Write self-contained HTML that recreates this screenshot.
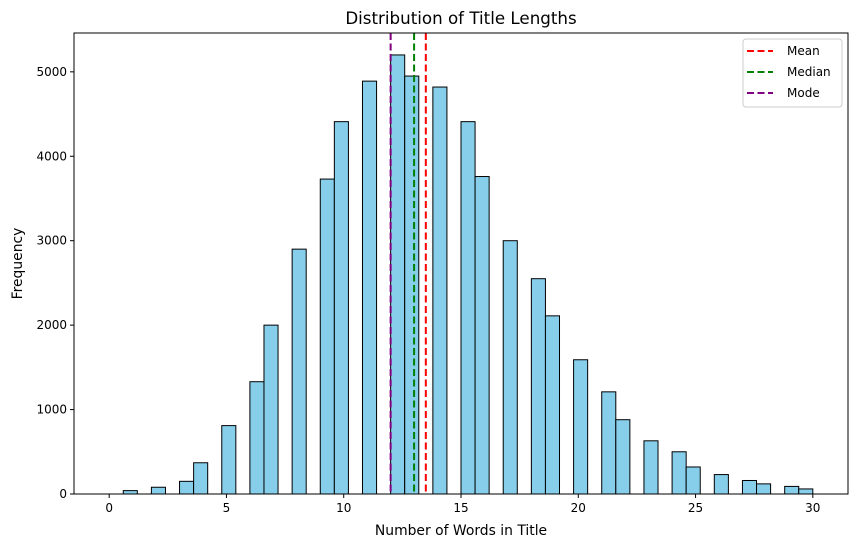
<!DOCTYPE html>
<html><head><meta charset="utf-8"><style>
body{margin:0;background:#fff;}
svg{display:block;font-family:"DejaVu Sans","Liberation Sans",sans-serif;}
</style></head><body>
<svg id="c" width="859" height="547" xmlns="http://www.w3.org/2000/svg"></svg>
<script>
const words=[0,1,2,3,4,5,6,7,8,9,10,11,12,13,14,15,16,17,18,19,20,21,22,23,24,25,26,27,28,29,30];
const counts=[0,40,80,150,370,810,1330,2000,2900,3730,4410,4890,5200,4950,4820,4410,3760,3000,2550,2110,1590,1210,880,630,500,320,230,160,120,90,60];
const xTicks=[0,5,10,15,20,25,30];
const yTicks=[0,1000,2000,3000,4000,5000];
const refLines=[{name:'Mean',v:13.5,c:'#ff0000'},{name:'Median',v:13,c:'#008000'},{name:'Mode',v:12,c:'#800080'}];
const L=74,R=848,T=33,B=494;
const xmin=-1.5,xmax=31.5,ymax=5460;
const X=v=>L+(v-xmin)/(xmax-xmin)*(R-L);
const Y=v=>B-v/ymax*(B-T);
const svg=document.getElementById('c');
const NS='http://www.w3.org/2000/svg';
function mk(t,a,p){const e=document.createElementNS(NS,t);for(const k in a)e.setAttribute(k,a[k]);(p||svg).appendChild(e);return e;}
const nb=50,bw=30/nb;
words.forEach((w,i)=>{
 let b=Math.min(Math.floor(w/bw+1e-9),nb-1);
 if(counts[i]<=0)return;
 const r=mk('rect',{x:X(b*bw),y:Y(counts[i]),width:X((b+1)*bw)-X(b*bw),height:Y(0)-Y(counts[i]),fill:'#87ceeb',stroke:'#000','stroke-width':1});
 
 
});
refLines.forEach(l=>{
 const e=mk('line',{x1:X(l.v),x2:X(l.v),y1:T,y2:B,stroke:l.c,'stroke-width':2,'stroke-dasharray':'7,3.5'});
 
 
});
const fr=mk('rect',{x:L,y:T,width:R-L,height:B-T,fill:'none',stroke:'#000','stroke-width':1});


xTicks.forEach(t=>{
 mk('line',{x1:X(t),x2:X(t),y1:B,y2:B+4,stroke:'#000'});
 const e=mk('text',{x:X(t),y:B+18,'text-anchor':'middle','font-size':12});e.textContent=t;
 
 
});
yTicks.forEach(t=>{
 mk('line',{x1:L-4,x2:L,y1:Y(t),y2:Y(t),stroke:'#000'});
 const e=mk('text',{x:L-7,y:Y(t)+4,'text-anchor':'end','font-size':12});e.textContent=t;
 
 
});
let e=mk('text',{x:(L+R)/2,y:24,'text-anchor':'middle','font-size':16.7});e.textContent='Distribution of Title Lengths';


e=mk('text',{x:(L+R)/2,y:535,'text-anchor':'middle','font-size':13.9});e.textContent='Number of Words in Title';


e=mk('text',{x:22,y:(T+B)/2,'text-anchor':'middle','font-size':13.9,transform:'rotate(-90 22 '+(T+B)/2+')'});e.textContent='Frequency';


const lg=mk('g',{});


mk('rect',{x:743,y:39,width:99,height:68,rx:3,fill:'#fff',stroke:'#ccc'},lg);
refLines.forEach((l,i)=>{
 const y=51+i*21;
 mk('line',{x1:747,x2:773,y1:y,y2:y,stroke:l.c,'stroke-width':2,'stroke-dasharray':'7,3.5'},lg);
 const t=mk('text',{x:787,y:y+4,'font-size':12},lg);t.textContent=l.name;
 
 
});
</script>
</body></html>
